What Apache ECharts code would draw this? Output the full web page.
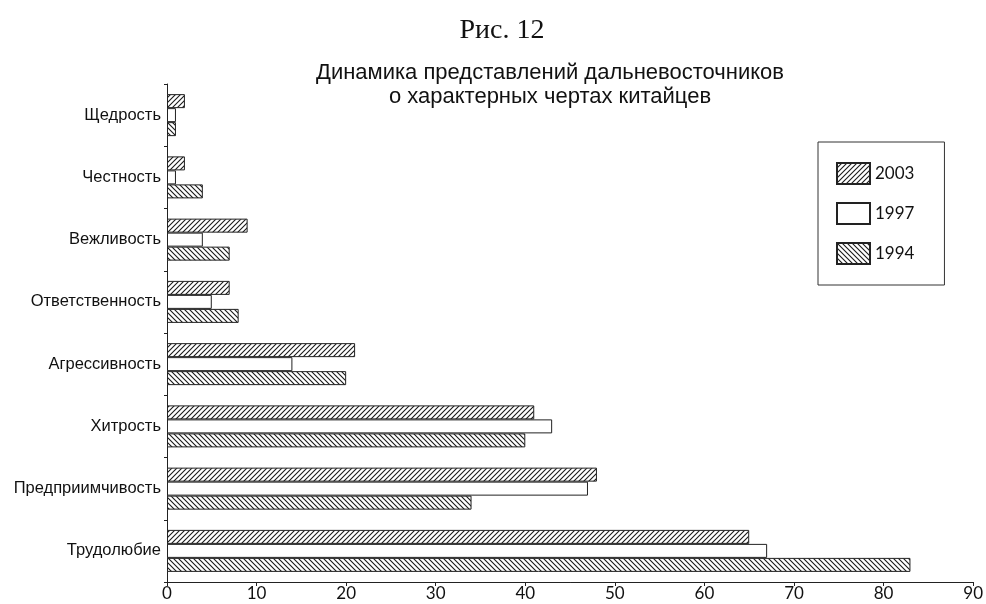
<!DOCTYPE html>
<html>
<head>
<meta charset="utf-8">
<script src="https://cdn.jsdelivr.net/npm/echarts@6/dist/echarts.min.js"></script>
<style>
html,body{margin:0;padding:0;background:#fff;}
#chart{width:986px;height:604px;}
</style>
</head>
<body>
<div id="chart"></div>
<script>
// Categories, bottom to top
const categories = ['Трудолюбие','Предприимчивость','Хитрость','Агрессивность','Ответственность','Вежливость','Честность','Щедрость'];
const values1994 = [83, 34, 40, 20, 8, 7, 4, 1];
const values1997 = [67, 47, 43, 14, 5, 4, 1, 1];
const values2003 = [65, 48, 41, 21, 7, 9, 2, 2];
const seriesNames = ['2003', '1997', '1994'];
const legendOrder = ['2003', '1997', '1994'];
const xTicks = [0, 10, 20, 30, 40, 50, 60, 70, 80, 90];

function hatch(dir) {
  const s = 5;
  const c = document.createElement('canvas');
  c.width = s; c.height = s;
  const ctx = c.getContext('2d');
  ctx.fillStyle = '#fff';
  ctx.fillRect(0, 0, s, s);
  ctx.strokeStyle = '#1a1a1a';
  ctx.lineWidth = 1.1;
  ctx.beginPath();
  if (dir === '/') {
    ctx.moveTo(-1, s + 1); ctx.lineTo(s + 1, -1);
    ctx.moveTo(-1, 1); ctx.lineTo(1, -1);
    ctx.moveTo(s - 1, s + 1); ctx.lineTo(s + 1, s - 1);
  } else {
    ctx.moveTo(-1, -1); ctx.lineTo(s + 1, s + 1);
    ctx.moveTo(s - 1, -1); ctx.lineTo(s + 1, 1);
    ctx.moveTo(-1, s - 1); ctx.lineTo(1, s + 1);
  }
  ctx.stroke();
  return c;
}

const fills = {
  '1994': { image: hatch('\\'), repeat: 'repeat' },
  '1997': '#ffffff',
  '2003': { image: hatch('/'), repeat: 'repeat' }
};
const dataBySeries = { '1994': values1994, '1997': values1997, '2003': values2003 };

const chart = echarts.init(document.getElementById('chart'), null, { renderer: 'canvas' });
chart.setOption({
  backgroundColor: '#fff',
  animation: false,
  title: [
    {
      text: 'Рис. 12',
      left: 497, top: 12, textAlign: 'center',
      textStyle: { fontFamily: 'Liberation Serif', fontSize: 28, fontWeight: 'normal', color: '#111' }
    },
    {
      text: 'Динамика представлений дальневосточников\nо характерных чертах китайцев',
      left: 545, top: 56, textAlign: 'center',
      textStyle: { fontFamily: 'Liberation Sans', fontSize: 22, fontWeight: 'normal', color: '#111', lineHeight: 24, align: 'center' }
    }
  ],
  legend: {
    data: legendOrder,
    orient: 'vertical',
    left: 818, top: 142,
    padding: [20, 30, 20, 18],
    itemWidth: 33, itemHeight: 21, itemGap: 17,
    borderColor: '#333', borderWidth: 1,
    icon: 'rect',
    textStyle: { fontFamily: 'Lato', fontSize: 17, color: '#111' }
  },
  grid: { left: 167, right: 12, top: 84, bottom: 22, containLabel: false },
  xAxis: {
    type: 'value', min: 0, max: 90, interval: 10,
    axisLine: { show: true, lineStyle: { color: '#222', width: 1 } },
    axisTick: { show: true, length: 4, lineStyle: { color: '#222' } },
    splitLine: { show: false },
    axisLabel: {
      margin: 3, fontFamily: 'Lato', fontSize: 17, color: '#111',
      formatter: v => xTicks.includes(v) ? String(v) : ''
    }
  },
  yAxis: {
    type: 'category', data: categories,
    axisLine: { show: true, lineStyle: { color: '#222', width: 1 } },
    axisTick: { show: true, length: 3, lineStyle: { color: '#222' } },
    axisLabel: { margin: 6, fontFamily: 'Liberation Sans', fontSize: 16.5, color: '#111' }
  },
  series: seriesNames.map(name => ({
    name: name,
    type: 'bar',
    data: dataBySeries[name],
    barWidth: 14,
    barGap: '0%',
    itemStyle: { color: fills[name], borderColor: '#222', borderWidth: 1 }
  }))
});
</script>
</body>
</html>
